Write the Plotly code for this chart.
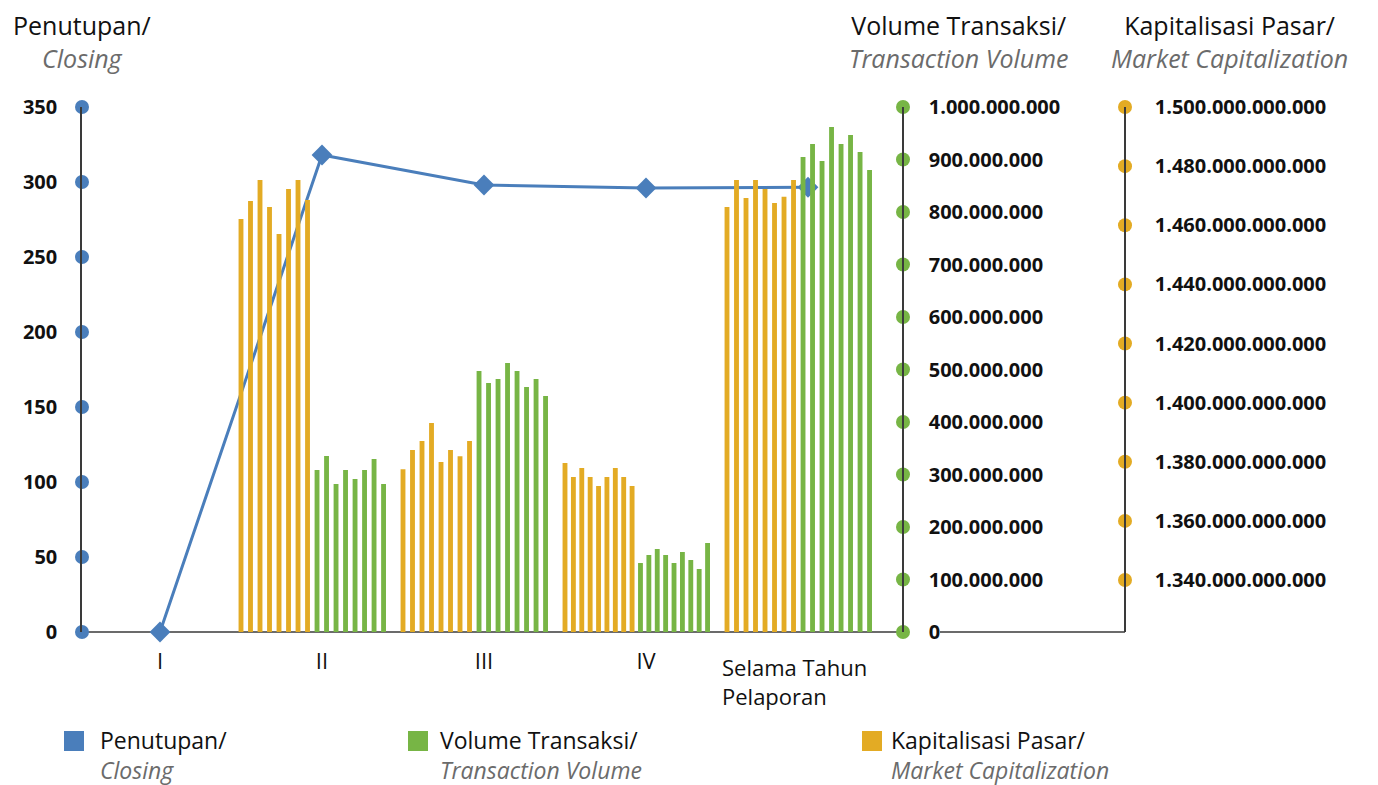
import plotly.graph_objects as go

# ---------------- data ----------------
categories = ["I", "II", "III", "IV", "Selama Tahun<br>Pelaporan"]
closing = [0, 318, 298, 296, 296.5]

# Market capitalization per sub-period (in billions of Rupiah)
market_cap_bn = [
    [],
    [1462.1, 1468.2, 1475.3, 1466.2, 1457.0, 1472.3, 1475.3, 1468.5],
    [1377.5, 1384.0, 1387.0, 1393.1, 1379.9, 1384.0, 1381.9, 1387.0],
    [1379.6, 1374.8, 1377.9, 1374.8, 1371.8, 1374.8, 1377.9, 1374.8, 1371.8],
    [1466.2, 1475.3, 1469.2, 1475.3, 1472.3, 1467.5, 1469.6, 1475.3],
]
# Transaction volume per sub-period (in millions of shares)
volume_mn = [
    [],
    [308.6, 335.2, 281.9, 308.6, 291.4, 308.6, 329.5, 281.9],
    [497.1, 474.3, 481.9, 512.4, 497.1, 466.7, 481.9, 449.5],
    [131.4, 146.7, 158.1, 146.7, 131.4, 152.4, 137.1, 120.0, 169.5],
    [904.8, 929.5, 897.1, 961.9, 929.5, 946.7, 914.3, 880.0],
]

closing_ticks = [0, 50, 100, 150, 200, 250, 300, 350]
volume_ticks = [0, 100_000_000, 200_000_000, 300_000_000, 400_000_000, 500_000_000,
                600_000_000, 700_000_000, 800_000_000, 900_000_000, 1_000_000_000]
mcap_ticks = [1_340_000_000_000, 1_360_000_000_000, 1_380_000_000_000, 1_400_000_000_000,
              1_420_000_000_000, 1_440_000_000_000, 1_460_000_000_000, 1_480_000_000_000,
              1_500_000_000_000]

# ---------------- style ----------------
BLUE = "#4A7EBB"
GREEN = "#77B545"
ORANGE = "#E3AB24"
GRAY = "#6B6B6B"
AXIS = "#3a3a3a"
FONT = "Open Sans"

OFF = 8                                   # page body margin of the browser
W, H = 1378 - OFF, 785 - OFF
L, R, T, B = 82, 1125, 107, 632          # plot area in reference pixels
VOL_AXIS_PX = 903
VOL_POS = (VOL_AXIS_PX - L) / (R - L)
PX_PER_CAT = 162
X0_PX = 160
X_LEFT = (L - X0_PX) / PX_PER_CAT
X_VOL_AXIS = (VOL_AXIS_PX - X0_PX) / PX_PER_CAT
X_MCAP_AXIS = (R - X0_PX) / PX_PER_CAT
MCAP_RANGE = [1_340_000_000_000 - 52 * (160e9 / 473), 1_500_000_000_000]

SPAN = 0.88
OFFSET = -0.06
BAR_W = 0.03


def px_x(px):
    return (px - L) / (R - L)


def px_y(py):
    return (B - py) / (B - T)


fig = go.Figure()

# bars
mc_x, mc_y, vol_x, vol_y = [], [], [], []
for k, (mc, vol) in enumerate(zip(market_cap_bn, volume_mn)):
    n = len(mc) + len(vol)
    if n == 0:
        continue
    xs = [k + OFFSET + (j / (n - 1) - 0.5) * SPAN for j in range(n)]
    mc_x += xs[:len(mc)]
    mc_y += [v * 1e9 for v in mc]
    vol_x += xs[len(mc):]
    vol_y += [v * 1e6 for v in vol]

fig.add_trace(go.Bar(x=mc_x, y=mc_y, width=BAR_W, marker=dict(color=ORANGE, line=dict(width=0)),
                     yaxis="y3", showlegend=False, name="Kapitalisasi Pasar"))
fig.add_trace(go.Bar(x=vol_x, y=vol_y, width=BAR_W, marker=dict(color=GREEN, line=dict(width=0)),
                     yaxis="y2", showlegend=False, name="Volume Transaksi"))
fig.add_trace(go.Scatter(x=list(range(len(categories))), y=closing, mode="lines+markers",
                         line=dict(color=BLUE, width=3),
                         marker=dict(symbol="diamond", size=16, color=BLUE),
                         cliponaxis=False, showlegend=False, name="Penutupan", yaxis="y"))

# dots on the axes at each tick value
for ya, xv, vals, col in [("y", X_LEFT, closing_ticks, BLUE),
                          ("y2", X_VOL_AXIS, volume_ticks, GREEN),
                          ("y3", X_MCAP_AXIS, mcap_ticks, ORANGE)]:
    fig.add_trace(go.Scatter(x=[xv] * len(vals), y=vals, mode="markers", yaxis=ya,
                             marker=dict(size=14, color=col, line=dict(width=0)),
                             cliponaxis=False, showlegend=False, hoverinfo="skip"))

tickfont = dict(family=FONT, size=20, color="#111111", weight="bold")

fig.update_layout(
    width=W, height=H,
    margin=dict(l=L - OFF, r=W - (R - OFF), t=T - OFF, b=H - (B - OFF)),
    paper_bgcolor="white", plot_bgcolor="white",
    separators=",.",
    barmode="overlay",
    font=dict(family=FONT),
    xaxis=dict(domain=[0, 1], range=[X_LEFT, X_MCAP_AXIS], tickmode="array",
               tickvals=list(range(len(categories) - 1)), ticktext=categories[:-1],
               tickfont=dict(family=FONT, size=22, color="#111111"),
               showline=False, showgrid=False, zeroline=False,
               ticks="", ticklabelstandoff=14, automargin=False, fixedrange=True),
    yaxis=dict(range=[0, 350], tickvals=closing_ticks, tickfont=tickfont,
               showline=True, linecolor=AXIS, linewidth=1.5, showgrid=False, zeroline=False,
               ticks="", ticklabelstandoff=19, automargin=False),
    yaxis2=dict(range=[0, 1_000_000_000], tickvals=volume_ticks, tickformat=",.0f",
                tickfont=tickfont, overlaying="y", anchor="free", position=VOL_POS, side="right",
                showline=True, linecolor=AXIS, linewidth=1.5, showgrid=False, zeroline=False,
                ticks="", ticklabelstandoff=21, automargin=False),
    yaxis3=dict(range=MCAP_RANGE, tickvals=mcap_ticks, tickformat=",.0f",
                tickfont=tickfont, overlaying="y", anchor="free", position=1, side="right",
                showline=True, linecolor=AXIS, linewidth=1.5, showgrid=False, zeroline=False,
                ticks="", ticklabelstandoff=25, automargin=False),
)

shapes = []
# bottom baseline: category axis and connector to the market-cap axis
shapes.append(dict(type="line", xref="paper", yref="paper", x0=0, x1=VOL_POS, y0=0, y1=0,
                   line=dict(color=AXIS, width=1.5), layer="below"))
shapes.append(dict(type="line", xref="paper", yref="paper", x0=px_x(940), x1=1, y0=0, y1=0,
                   line=dict(color=AXIS, width=1.5), layer="below"))
# legend squares
for xpx, col in [(64, BLUE), (408, GREEN), (862, ORANGE)]:
    shapes.append(dict(type="rect", xref="paper", yref="paper", x0=px_x(xpx), x1=px_x(xpx + 20),
                       y0=px_y(751), y1=px_y(731), fillcolor=col, line=dict(width=0)))
fig.update_layout(shapes=shapes)

annotations = []


def two_line(first, second, xpx, ytop_px, anchor, size):
    text = f"{first}<br><span style='color:{GRAY}'><i>{second}</i></span>"
    annotations.append(dict(text=text, xref="paper", yref="paper", x=px_x(xpx), y=px_y(ytop_px),
                            xanchor=anchor, yanchor="top", align=anchor,
                            showarrow=False, borderpad=0,
                            font=dict(family=FONT, size=size, color="#111111")))


# axis titles
two_line("Penutupan/", "Closing", 82, 7, "center", 25)
two_line("Volume Transaksi/", "Transaction Volume", 958, 7, "center", 25)
two_line("Kapitalisasi Pasar/", "Market Capitalization", 1229, 7, "center", 25)
# last category label (left aligned, two lines)
annotations.append(dict(text=categories[-1], xref="paper", yref="paper", x=px_x(721), y=px_y(651),
                        xanchor="left", yanchor="top", align="left", showarrow=False, borderpad=0,
                        font=dict(family=FONT, size=22, color="#111111")))
# legend text
two_line("Penutupan/", "Closing", 99, 723, "left", 23)
two_line("Volume Transaksi/", "Transaction Volume", 439, 723, "left", 23)
two_line("Kapitalisasi Pasar/", "Market Capitalization", 890, 723, "left", 23)
fig.update_layout(annotations=annotations)

fig.write_html("out.html")
